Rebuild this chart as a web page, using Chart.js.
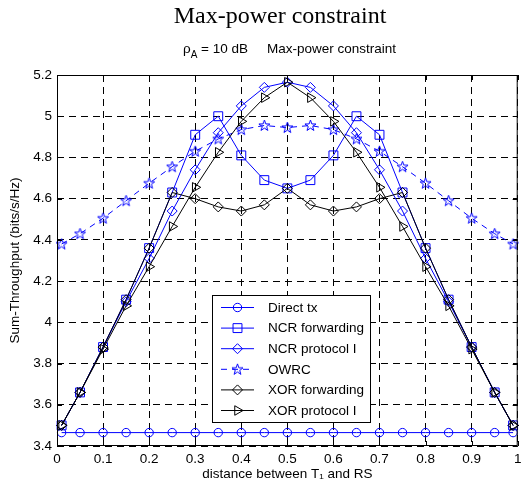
<!DOCTYPE html>
<html>
<head>
<meta charset="utf-8">
<script src="https://cdn.jsdelivr.net/npm/chart.js@4.4.1/dist/chart.umd.min.js"></script>
<style>
  html, body { margin: 0; padding: 0; background: #fff; }
</style>
</head>
<body>
<canvas id="chart" width="525" height="484"></canvas>
<script>
// distance between T1 and RS (x positions of the markers)
const distances = [0.01, 0.05, 0.1, 0.15, 0.2, 0.25, 0.3, 0.35, 0.4, 0.45, 0.5,
                   0.55, 0.6, 0.65, 0.7, 0.75, 0.8, 0.85, 0.9, 0.95, 0.99];

const directTx = [3.465, 3.465, 3.465, 3.465, 3.465, 3.465, 3.465, 3.465, 3.465, 3.465, 3.465,
                  3.465, 3.465, 3.465, 3.465, 3.465, 3.465, 3.465, 3.465, 3.465, 3.465];
const ncrForwarding = [3.50, 3.66, 3.88, 4.11, 4.36, 4.63, 4.91, 5.00, 4.81, 4.69, 4.65,
                       4.69, 4.81, 5.00, 4.91, 4.63, 4.36, 4.11, 3.88, 3.66, 3.50];
const ncrProtocol = [3.50, 3.66, 3.88, 4.10, 4.31, 4.54, 4.74, 4.92, 5.05, 5.14, 5.165,
                     5.14, 5.05, 4.92, 4.74, 4.54, 4.31, 4.10, 3.88, 3.66, 3.50];
const owrc = [4.38, 4.43, 4.505, 4.59, 4.675, 4.755, 4.83, 4.89, 4.935, 4.955, 4.945,
              4.955, 4.935, 4.89, 4.83, 4.755, 4.675, 4.59, 4.505, 4.43, 4.38];
const xorForwarding = [3.50, 3.66, 3.88, 4.11, 4.36, 4.63, 4.60, 4.56, 4.54, 4.57, 4.65,
                       4.57, 4.54, 4.56, 4.60, 4.63, 4.36, 4.11, 3.88, 3.66, 3.50];
const xorProtocol = [3.50, 3.66, 3.87, 4.08, 4.27, 4.465, 4.655, 4.825, 4.975, 5.09, 5.165,
                     5.09, 4.975, 4.825, 4.655, 4.465, 4.27, 4.08, 3.87, 3.66, 3.50];

const seriesNames = ['Direct tx', 'NCR forwarding', 'NCR protocol I', 'OWRC', 'XOR forwarding', 'XOR protocol I'];

const xTicks = [0, 0.1, 0.2, 0.3, 0.4, 0.5, 0.6, 0.7, 0.8, 0.9, 1];
const yTicks = [3.4, 3.6, 3.8, 4, 4.2, 4.4, 4.6, 4.8, 5, 5.2];

const BLUE = '#0000ff';
const BLACK = '#000000';
const SANS = "'Liberation Sans', Arial, Helvetica, sans-serif";

// MATLAB-like pentagram marker
function makePentagram(color) {
    const c = document.createElement('canvas');
    c.width = 13; c.height = 13;
    const g = c.getContext('2d');
    g.strokeStyle = color;
    g.lineWidth = 1;
    g.beginPath();
    for (let i = 0; i < 10; i++) {
        const r = (i % 2 === 0) ? 5.8 : 2.3;
        const a = -Math.PI / 2 + i * Math.PI / 5;
        const px = 6.5 + r * Math.cos(a);
        const py = 6.8 + r * Math.sin(a);
        if (i === 0) g.moveTo(px, py); else g.lineTo(px, py);
    }
    g.closePath();
    g.stroke();
    return c;
}
const starMarker = makePentagram(BLUE);

function toPoints(values) {
    return distances.map((d, i) => ({ x: d, y: values[i] }));
}

function makeSet(label, values, color, style, radius, extra) {
    return Object.assign({
        label,
        data: toPoints(values),
        borderColor: color,
        backgroundColor: 'rgba(0,0,0,0)',
        borderWidth: 1,
        pointStyle: style,
        pointRadius: radius,
        pointBorderColor: color,
        pointBackgroundColor: 'rgba(0,0,0,0)',
        pointBorderWidth: 1,
        tension: 0,
        clip: false
    }, extra || {});
}

const datasets = [
    makeSet(seriesNames[0], directTx, BLUE, 'circle', 4.2, { order: 6 }),
    makeSet(seriesNames[1], ncrForwarding, BLUE, 'rect', 6.3, { order: 5 }),
    makeSet(seriesNames[2], ncrProtocol, BLUE, 'rectRot', 5, { order: 4 }),
    makeSet(seriesNames[3], owrc, BLUE, starMarker, 5, { order: 3, borderDash: [6, 5] }),
    makeSet(seriesNames[4], xorForwarding, BLACK, 'rectRot', 5, { order: 2 }),
    makeSet(seriesNames[5], xorProtocol, BLACK, 'triangle', 5.5, { order: 1, pointRotation: 90 })
];

function fmt(v) {
    return String(Number(v.toFixed(1)));
}

// box, inward ticks, legend and titles drawn like the MATLAB figure
const matlabFrame = {
    id: 'matlabFrame',
    afterDraw(chart) {
        const ctx = chart.ctx;
        const a = chart.chartArea;
        const xs = chart.scales.x;
        const ys = chart.scales.y;
        ctx.save();

        ctx.strokeStyle = BLACK;
        ctx.lineWidth = 1;
        ctx.strokeRect(a.left + 0.5, a.top + 0.5, a.right - a.left - 1, a.bottom - a.top - 1);

        ctx.beginPath();
        xTicks.forEach(t => {
            const px = Math.round(xs.getPixelForValue(t)) + 0.5;
            ctx.moveTo(px, a.bottom); ctx.lineTo(px, a.bottom - 5);
            ctx.moveTo(px, a.top); ctx.lineTo(px, a.top + 5);
        });
        yTicks.forEach(t => {
            const py = Math.round(ys.getPixelForValue(t)) + 0.5;
            ctx.moveTo(a.left, py); ctx.lineTo(a.left + 5, py);
            ctx.moveTo(a.right, py); ctx.lineTo(a.right - 5, py);
        });
        ctx.stroke();

        // legend
        const lx = 212, ly = 295, lw = 158, lh = 127;
        ctx.fillStyle = '#fff';
        ctx.fillRect(lx, ly, lw, lh);
        ctx.strokeRect(lx + 0.5, ly + 0.5, lw, lh);
        chart.data.datasets.forEach((ds, i) => {
            const y = ly + 12.5 + i * 20.6;
            ctx.save();
            ctx.strokeStyle = ds.borderColor;
            ctx.lineWidth = 1;
            ctx.setLineDash(ds.borderDash || []);
            ctx.beginPath();
            ctx.moveTo(221, y); ctx.lineTo(254, y);
            ctx.stroke();
            ctx.setLineDash([]);
            ctx.fillStyle = 'rgba(0,0,0,0)';
            Chart.helpers.drawPoint(ctx, {
                pointStyle: ds.pointStyle,
                radius: ds.pointRadius,
                rotation: ds.pointRotation || 0,
                borderWidth: 1
            }, 237.5, y);
            ctx.restore();
            ctx.fillStyle = BLACK;
            ctx.font = '13.5px ' + SANS;
            ctx.textBaseline = 'middle';
            ctx.textAlign = 'left';
            ctx.fillText(ds.label, 268, y + 0.5);
        });

        // figure title
        ctx.fillStyle = BLACK;
        ctx.textAlign = 'center';
        ctx.textBaseline = 'alphabetic';
        ctx.font = "24px 'Liberation Serif', 'Times New Roman', serif";
        ctx.fillText('Max-power constraint', 280, 23);

        // axes title with subscript
        ctx.textAlign = 'left';
        ctx.font = '13.5px ' + SANS;
        let x = 183;
        ctx.fillText('\u03C1', x, 53);
        x += ctx.measureText('\u03C1').width;
        ctx.font = '10px ' + SANS;
        ctx.fillText('A', x, 58);
        x += ctx.measureText('A').width;
        ctx.font = '13.5px ' + SANS;
        ctx.fillText(' = 10 dB', x, 53);
        ctx.fillText('Max-power constraint', 267, 53);

        ctx.restore();
    }
};

new Chart(document.getElementById('chart'), {
    type: 'line',
    data: { datasets },
    options: {
        responsive: false,
        animation: false,
        layout: { padding: { top: 75, right: 1, left: 0, bottom: 0 } },
        plugins: {
            legend: { display: false },
            title: { display: false },
            tooltip: { enabled: false }
        },
        scales: {
            x: {
                type: 'linear',
                min: 0,
                max: 1,
                afterBuildTicks: scale => { scale.ticks = xTicks.map(v => ({ value: v })); },
                afterFit: scale => {
                    scale.height = 38;
                    scale.paddingLeft = 0;
                    scale.paddingRight = 0;
                },
                grid: { color: BLACK, lineWidth: 1, drawTicks: false },
                border: { display: false, dash: [7, 5] },
                ticks: {
                    color: BLACK,
                    padding: 5,
                    maxRotation: 0,
                    font: { family: SANS, size: 13.5 },
                    callback: v => fmt(v)
                },
                title: {
                    display: true,
                    text: 'distance between T\u2081 and RS',
                    color: BLACK,
                    font: { family: SANS, size: 13.5 },
                    padding: { top: 0, bottom: 2 }
                }
            },
            y: {
                type: 'linear',
                min: 3.4,
                max: 5.2,
                afterBuildTicks: scale => { scale.ticks = yTicks.map(v => ({ value: v })); },
                afterFit: scale => {
                    scale.width = 57;
                    scale.paddingTop = 0;
                    scale.paddingBottom = 0;
                },
                grid: { color: BLACK, lineWidth: 1, drawTicks: false },
                border: { display: false, dash: [7, 5] },
                ticks: {
                    color: BLACK,
                    padding: 5,
                    font: { family: SANS, size: 13.5 },
                    callback: v => fmt(v)
                },
                title: {
                    display: true,
                    text: 'Sum-Throughput (bits/s/Hz)',
                    color: BLACK,
                    font: { family: SANS, size: 13.5 },
                    padding: { top: 7, bottom: 0 }
                }
            }
        }
    },
    plugins: [matlabFrame]
});
</script>
</body>
</html>
